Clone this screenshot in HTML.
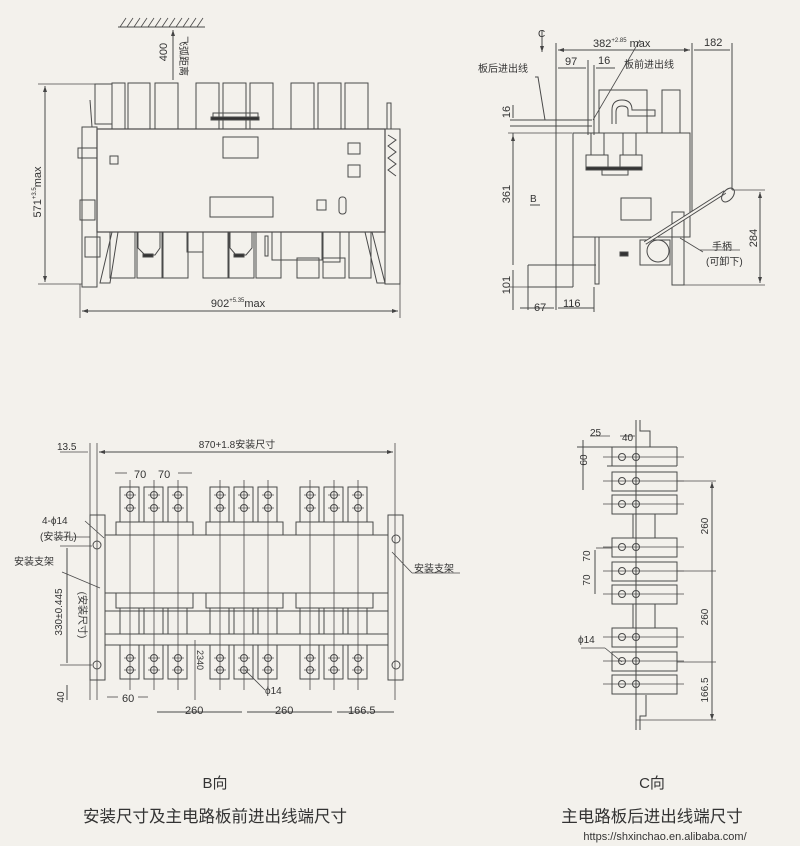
<!DOCTYPE html>
<html><head><meta charset="utf-8"><style>
html,body{margin:0;padding:0;background:#f3f1ec;}
svg{display:block;}
text{font-family:"Liberation Sans","Noto Sans CJK SC",sans-serif;fill:#333;}
</style></head><body>
<svg width="800" height="846" viewBox="0 0 800 846" xmlns="http://www.w3.org/2000/svg">
<rect width="800" height="846" fill="#f3f1ec"/>
<g fill="none" stroke="#4a4a4a" stroke-width="1">
<!-- ===== TOP LEFT VIEW ===== -->
<line x1="118" y1="27" x2="205" y2="27"/>
<g stroke-width="0.8">
<line x1="120" y1="27" x2="126" y2="18"/><line x1="127" y1="27" x2="133" y2="18"/><line x1="134" y1="27" x2="140" y2="18"/><line x1="141" y1="27" x2="147" y2="18"/><line x1="148" y1="27" x2="154" y2="18"/><line x1="155" y1="27" x2="161" y2="18"/><line x1="162" y1="27" x2="168" y2="18"/><line x1="169" y1="27" x2="175" y2="18"/><line x1="176" y1="27" x2="182" y2="18"/><line x1="183" y1="27" x2="189" y2="18"/><line x1="190" y1="27" x2="196" y2="18"/><line x1="197" y1="27" x2="203" y2="18"/>
</g>
<line x1="173" y1="30" x2="173" y2="80"/>
<rect x="112" y="83" width="13" height="46"/>
<rect x="128" y="83" width="22" height="46"/><rect x="155" y="83" width="23" height="46"/>
<rect x="196" y="83" width="23" height="46"/><rect x="223" y="83" width="23" height="46"/><rect x="250" y="83" width="23" height="46"/>
<rect x="291" y="83" width="23" height="46"/><rect x="318" y="83" width="23" height="46"/><rect x="345" y="83" width="23" height="46"/>
<rect x="213" y="113" width="45" height="5"/><rect x="211" y="117" width="48" height="3" fill="#333"/>
<rect x="95" y="84" width="17" height="40"/>
<rect x="97" y="129" width="288" height="103" stroke-width="1.2"/>
<rect x="223" y="137" width="35" height="21"/>
<rect x="110" y="156" width="8" height="8"/>
<rect x="348" y="143" width="12" height="11"/><rect x="348" y="165" width="12" height="12"/>
<rect x="210" y="197" width="63" height="20"/>
<rect x="317" y="200" width="9" height="10"/><rect x="339" y="197" width="7" height="17" rx="3"/>
<rect x="82" y="127" width="15" height="160"/><rect x="78" y="148" width="19" height="10"/>
<rect x="80" y="200" width="15" height="20"/><rect x="85" y="237" width="15" height="20"/>
<polyline points="90,100 92,127"/>
<rect x="385" y="129" width="15" height="155"/>
<polyline points="388,135 396,140 388,146 396,152 388,158 396,164 388,170 396,176"/>
<rect x="387" y="103" width="4" height="26"/>
<rect x="110" y="232" width="25" height="46"/><rect x="137" y="232" width="25" height="46"/>
<polyline points="138,232 138,248 145,255 155,255 160,248 160,232"/>
<rect x="143" y="254" width="10" height="3" fill="#333"/>
<rect x="163" y="232" width="25" height="46"/>
<rect x="187" y="232" width="16" height="20"/><rect x="203" y="232" width="25" height="46"/>
<rect x="229" y="232" width="25" height="46"/>
<polyline points="230,232 230,248 236,255 246,255 252,248 252,232"/>
<rect x="234" y="254" width="10" height="3" fill="#333"/>
<rect x="256" y="232" width="25" height="46"/><rect x="265" y="236" width="3" height="20"/>
<rect x="272" y="232" width="50" height="28"/>
<rect x="297" y="258" width="22" height="20"/><rect x="323" y="232" width="17" height="30"/>
<rect x="323" y="258" width="22" height="20"/><rect x="349" y="232" width="22" height="46"/>
<polyline points="112,232 100,283 110,283 118,232"/>
<polyline points="365,232 377,283 385,283 372,232"/>
<line x1="38" y1="84" x2="95" y2="84" stroke-width="0.8"/>
<line x1="38" y1="284" x2="82" y2="284" stroke-width="0.8"/>
<line x1="45" y1="86" x2="45" y2="282"/>
<line x1="80" y1="284" x2="80" y2="318" stroke-width="0.8"/>
<line x1="400" y1="130" x2="400" y2="318" stroke-width="0.8"/>
<line x1="82" y1="311" x2="398" y2="311"/>

<!-- ===== TOP RIGHT VIEW ===== -->
<line x1="556" y1="43" x2="556" y2="310"/>
<line x1="692" y1="43" x2="692" y2="215"/>
<line x1="732" y1="43" x2="732" y2="190"/>
<line x1="558" y1="50" x2="690" y2="50"/><line x1="694" y1="50" x2="730" y2="50"/>
<line x1="588" y1="60" x2="588" y2="135"/><line x1="594" y1="65" x2="594" y2="135"/>
<line x1="558" y1="68" x2="586" y2="68"/><line x1="596" y1="68" x2="615" y2="68"/>
<line x1="542" y1="30" x2="542" y2="52"/>
<polyline points="535,77 538,77 545,120"/>
<line x1="510" y1="120" x2="592" y2="120"/><line x1="510" y1="126" x2="592" y2="126"/>
<rect x="573" y="133" width="117" height="104" />
<rect x="599" y="90" width="48" height="43"/>
<path d="M612,124 V110 Q612,100 622,100 Q632,100 632,110 H655 V116 H628 V110 Q628,106 622,106 Q616,106 616,112 V124"/>
<rect x="662" y="90" width="18" height="43"/>
<rect x="591" y="133" width="13" height="22"/><rect x="623" y="133" width="13" height="22"/>
<rect x="586" y="155" width="22" height="12"/><rect x="620" y="155" width="22" height="12"/>
<rect x="586" y="167" width="56" height="3" fill="#333"/><rect x="602" y="170" width="26" height="5"/>
<rect x="621" y="198" width="30" height="22"/>
<line x1="593" y1="120" x2="640" y2="40" stroke-width="0.8"/>
<rect x="672" y="212" width="12" height="73"/>
<rect x="640" y="240" width="30" height="25"/>
<circle cx="658" cy="251" r="11"/>
<line x1="645" y1="243" x2="725" y2="192" stroke-width="4"/>
<line x1="645" y1="243" x2="725" y2="192" stroke-width="2" stroke="#f3f1ec"/>
<ellipse cx="728" cy="195" rx="5" ry="8" transform="rotate(40 728 195)"/>
<rect x="620" y="252" width="8" height="4" fill="#333"/>
<line x1="573" y1="237" x2="573" y2="287"/><line x1="573" y1="287" x2="528" y2="287"/>
<rect x="595" y="237" width="4" height="47"/>
<line x1="528" y1="265" x2="596" y2="265"/><line x1="528" y1="265" x2="528" y2="310"/>
<line x1="684" y1="285" x2="765" y2="285" stroke-width="0.8"/>
<line x1="732" y1="190" x2="765" y2="190" stroke-width="0.8"/>
<line x1="760" y1="192" x2="760" y2="283"/>
<line x1="513" y1="133" x2="513" y2="265"/>
<line x1="508" y1="133" x2="572" y2="133" stroke-width="0.8"/>
<line x1="513" y1="270" x2="513" y2="310"/>
<line x1="508" y1="287" x2="528" y2="287" stroke-width="0.8"/>
<line x1="513" y1="105" x2="513" y2="118"/>
<line x1="520" y1="308" x2="554" y2="308"/><line x1="558" y1="308" x2="594" y2="308"/>
<line x1="594" y1="287" x2="594" y2="312"/>
<line x1="700" y1="250" x2="740" y2="250" stroke-width="0.8"/><line x1="680" y1="238" x2="703" y2="252" stroke-width="0.8"/>
<line x1="530" y1="205" x2="540" y2="205"/>

<!-- ===== B VIEW ===== -->
<line x1="90" y1="443" x2="90" y2="700" stroke-width="0.8"/><line x1="97" y1="443" x2="97" y2="700" stroke-width="0.8"/>
<line x1="395" y1="443" x2="395" y2="700" stroke-width="0.8"/>
<line x1="99" y1="452" x2="393" y2="452"/>
<line x1="60" y1="452" x2="88" y2="452" stroke-width="0.8"/>
<rect x="90" y="515" width="15" height="165"/><rect x="388" y="515" width="15" height="165"/>
<circle cx="97" cy="545" r="4"/><circle cx="97" cy="665" r="4"/><circle cx="396" cy="539" r="4"/><circle cx="396" cy="665" r="4"/>
<rect x="105" y="535" width="283" height="58"/>
<rect x="105" y="593" width="283" height="18"/>
<rect x="105" y="634" width="283" height="11"/>
<g id="grp">
<rect x="116" y="522" width="77" height="13"/>
<rect x="120" y="487" width="19" height="35"/><rect x="144" y="487" width="19" height="35"/><rect x="168" y="487" width="19" height="35"/>
<rect x="116" y="593" width="77" height="15"/>
<rect x="120" y="608" width="19" height="26"/><rect x="144" y="608" width="19" height="26"/><rect x="168" y="608" width="19" height="26"/>
<rect x="120" y="645" width="19" height="34"/><rect x="144" y="645" width="19" height="34"/><rect x="168" y="645" width="19" height="34"/>
<circle cx="130" cy="495" r="3.5"/><circle cx="130" cy="508" r="3.5"/><circle cx="154" cy="495" r="3.5"/><circle cx="154" cy="508" r="3.5"/><circle cx="178" cy="495" r="3.5"/><circle cx="178" cy="508" r="3.5"/>
<circle cx="130" cy="658" r="3.5"/><circle cx="130" cy="670" r="3.5"/><circle cx="154" cy="658" r="3.5"/><circle cx="154" cy="670" r="3.5"/><circle cx="178" cy="658" r="3.5"/><circle cx="178" cy="670" r="3.5"/>
<g stroke-width="0.7">
<line x1="124" y1="495" x2="136" y2="495"/><line x1="124" y1="508" x2="136" y2="508"/><line x1="148" y1="495" x2="160" y2="495"/><line x1="148" y1="508" x2="160" y2="508"/><line x1="172" y1="495" x2="184" y2="495"/><line x1="172" y1="508" x2="184" y2="508"/>
<line x1="124" y1="658" x2="136" y2="658"/><line x1="124" y1="670" x2="136" y2="670"/><line x1="148" y1="658" x2="160" y2="658"/><line x1="148" y1="670" x2="160" y2="670"/><line x1="172" y1="658" x2="184" y2="658"/><line x1="172" y1="670" x2="184" y2="670"/>
</g>
<line x1="154" y1="480" x2="154" y2="690" stroke-width="0.8"/><line x1="178" y1="480" x2="178" y2="690" stroke-width="0.8"/><line x1="130" y1="480" x2="130" y2="690" stroke-width="0.8"/>
</g>
<use href="#grp" x="90"/><use href="#grp" x="180"/>
<line x1="115" y1="473" x2="127" y2="473" stroke-width="0.8"/><line x1="178" y1="473" x2="192" y2="473" stroke-width="0.8"/>
<line x1="60" y1="546" x2="92" y2="546" stroke-width="0.8"/><line x1="60" y1="665" x2="92" y2="665" stroke-width="0.8"/>
<line x1="67" y1="548" x2="67" y2="663"/>
<line x1="67" y1="685" x2="67" y2="700"/>
<line x1="85" y1="521" x2="104" y2="538" stroke-width="0.8"/>
<line x1="60" y1="537" x2="90" y2="537" stroke-width="0.8"/>
<line x1="62" y1="572" x2="100" y2="588" stroke-width="0.8"/>
<line x1="392" y1="552" x2="412" y2="573" stroke-width="0.8"/><line x1="412" y1="573" x2="460" y2="573" stroke-width="0.8"/>
<line x1="107" y1="697" x2="118" y2="697" stroke-width="0.8"/><line x1="138" y1="697" x2="148" y2="697" stroke-width="0.8"/>
<line x1="157" y1="712" x2="242" y2="712"/><line x1="247" y1="712" x2="332" y2="712"/><line x1="337" y1="712" x2="394" y2="712"/>
<line x1="195" y1="640" x2="195" y2="700" stroke-width="0.8"/>
<line x1="245" y1="670" x2="265" y2="690" stroke-width="0.8"/>

<!-- ===== C VIEW ===== -->
<line x1="636" y1="420" x2="636" y2="730"/>
<polyline points="640,420 640,431 650,431 650,447"/>
<polyline points="640,730 640,716 646,716 646,695"/>
<g id="crow">
<rect x="612" y="472" width="65" height="19"/>
<circle cx="622" cy="481" r="3.5"/><circle cx="636" cy="481" r="3.5"/>
<line x1="603" y1="481" x2="684" y2="481" stroke-width="0.8"/>
</g>
<line x1="577" y1="447" x2="677" y2="447"/>
<line x1="612" y1="447" x2="612" y2="466"/><line x1="677" y1="447" x2="677" y2="466"/>
<line x1="607" y1="466" x2="677" y2="466"/>
<circle cx="622" cy="457" r="3.5"/><circle cx="636" cy="457" r="3.5"/>
<line x1="603" y1="457" x2="684" y2="457" stroke-width="0.8"/>
<use href="#crow" y="23"/><use href="#crow" y="66"/><use href="#crow" y="90"/><use href="#crow" y="113"/><use href="#crow" y="156"/><use href="#crow" y="180"/><use href="#crow" y="203"/>
<line x1="633" y1="514" x2="633" y2="538"/><line x1="655" y1="514" x2="655" y2="538"/>
<line x1="633" y1="604" x2="633" y2="628"/><line x1="655" y1="604" x2="655" y2="628"/>
<line x1="677" y1="481" x2="716" y2="481" stroke-width="0.8"/>
<line x1="712" y1="482" x2="712" y2="720"/>
<line x1="636" y1="720" x2="716" y2="720" stroke-width="0.8"/>
<line x1="677" y1="571" x2="716" y2="571" stroke-width="0.8"/>
<line x1="677" y1="662" x2="716" y2="662" stroke-width="0.8"/>
<line x1="596" y1="548" x2="612" y2="548" stroke-width="0.8"/>
<line x1="595" y1="550" x2="595" y2="594"/>
<line x1="583" y1="440" x2="583" y2="490"/>
<line x1="590" y1="436" x2="610" y2="436" stroke-width="0.8"/><line x1="620" y1="436" x2="635" y2="436" stroke-width="0.8"/>
<line x1="581" y1="648" x2="605" y2="648" stroke-width="0.8"/><line x1="605" y1="648" x2="622" y2="662" stroke-width="0.8"/>
</g>
<g fill="#444" stroke="none">
<polygon points="173,30 171,36 175,36"/>
<polygon points="45,86 43,92 47,92"/><polygon points="45,282 43,276 47,276"/>
<polygon points="82,311 88,309 88,313"/><polygon points="398,311 392,309 392,313"/>
<polygon points="99,452 105,450 105,454"/><polygon points="393,452 387,450 387,454"/>
<polygon points="712,482 710,488 714,488"/><polygon points="712,720 710,714 714,714"/>
<polygon points="558,50 564,48 564,52"/><polygon points="690,50 684,48 684,52"/>
<polygon points="760,192 758,198 762,198"/><polygon points="760,283 758,277 762,277"/>
<polygon points="513,135 511,141 515,141"/><polygon points="542,52 540,46 544,46"/>
</g>
<g font-size="11">
<text x="167" y="52" transform="rotate(-90 167 52)" text-anchor="middle">400</text>
<text x="180" y="56" transform="rotate(90 180 56)" text-anchor="middle" font-size="10">飞弧距离</text>
<text x="41" y="192" transform="rotate(-90 41 192)" text-anchor="middle">571<tspan font-size="6" dy="-5">+3.5</tspan><tspan dy="5">max</tspan></text>
<text x="238" y="307" text-anchor="middle">902<tspan font-size="6" dy="-5">+5.35</tspan><tspan dy="5">max</tspan></text>
<text x="538" y="37" font-size="10">C</text>
<text x="593" y="47">382<tspan font-size="6" dy="-5">+2.85</tspan><tspan dy="5"> max</tspan></text>
<text x="704" y="46">182</text>
<text x="565" y="65">97</text><text x="598" y="64">16</text>
<text x="478" y="72" font-size="10">板后进出线</text>
<text x="624" y="68" font-size="10">板前进出线</text>
<text x="510" y="112" transform="rotate(-90 510 112)" text-anchor="middle">16</text>
<text x="510" y="194" transform="rotate(-90 510 194)" text-anchor="middle">361</text>
<text x="530" y="202" font-size="10">B</text>
<text x="712" y="250" font-size="10">手柄</text><text x="706" y="265" font-size="10">(可卸下)</text>
<text x="757" y="238" transform="rotate(-90 757 238)" text-anchor="middle">284</text>
<text x="510" y="285" transform="rotate(-90 510 285)" text-anchor="middle">101</text>
<text x="534" y="311">67</text><text x="563" y="307">116</text>
<text x="57" y="450" font-size="10">13.5</text>
<text x="237" y="448" text-anchor="middle" font-size="10">870+1.8安装尺寸</text>
<text x="134" y="478">70</text><text x="158" y="478">70</text>
<text x="42" y="524" font-size="10">4-ϕ14</text><text x="40" y="540" font-size="10">(安装孔)</text>
<text x="14" y="565" font-size="10">安装支架</text>
<text x="414" y="572" font-size="10">安装支架</text>
<text x="62" y="612" transform="rotate(-90 62 612)" text-anchor="middle" font-size="10">330±0.445</text>
<text x="79" y="615" transform="rotate(90 79 615)" text-anchor="middle" font-size="10">(安装尺寸)</text>
<text x="64" y="697" transform="rotate(-90 64 697)" text-anchor="middle" font-size="10">40</text>
<text x="122" y="702">60</text>
<text x="197" y="660" transform="rotate(90 197 660)" text-anchor="middle" font-size="9">2340</text>
<text x="265" y="694" font-size="10">ϕ14</text>
<text x="185" y="714">260</text><text x="275" y="714">260</text><text x="348" y="714">166.5</text>
<text x="590" y="436" font-size="10">25</text><text x="622" y="441" font-size="10">40</text>
<text x="587" y="460" transform="rotate(-90 587 460)" text-anchor="middle" font-size="10">60</text>
<text x="590" y="556" transform="rotate(-90 590 556)" text-anchor="middle" font-size="10">70</text>
<text x="590" y="580" transform="rotate(-90 590 580)" text-anchor="middle" font-size="10">70</text>
<text x="578" y="643" font-size="10">ϕ14</text>
<text x="708" y="526" transform="rotate(-90 708 526)" text-anchor="middle" font-size="10">260</text>
<text x="708" y="617" transform="rotate(-90 708 617)" text-anchor="middle" font-size="10">260</text>
<text x="708" y="690" transform="rotate(-90 708 690)" text-anchor="middle" font-size="10">166.5</text>
</g>
<text x="215" y="788" text-anchor="middle" font-size="15">B向</text>
<text x="215" y="822" text-anchor="middle" font-size="16.5">安装尺寸及主电路板前进出线端尺寸</text>
<text x="652" y="788" text-anchor="middle" font-size="15">C向</text>
<text x="652" y="822" text-anchor="middle" font-size="16.5">主电路板后进出线端尺寸</text>
<text x="665" y="840" text-anchor="middle" font-size="11" font-family="Liberation Mono, monospace">https://shxinchao.en.alibaba.com/</text>
</svg>
</body></html>
